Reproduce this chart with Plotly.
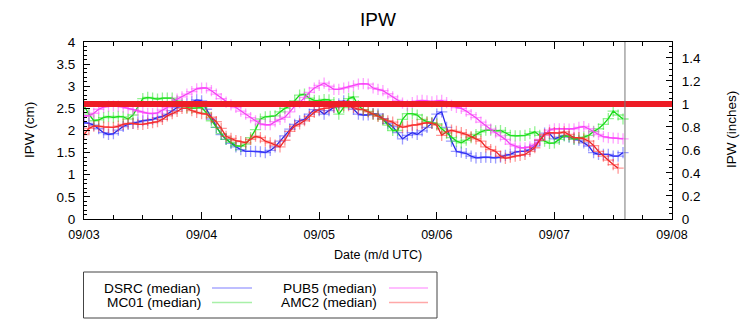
import plotly.graph_objects as go
import pandas as pd

# ---------------- data (IPW in cm, hourly from 09/03 00 UTC) ----------------
start_time = "2014-09-03 00:00"
dsrc = [2.18, 2.16, 2.12, 2.04, 1.95, 1.91, 1.93, 2.01, 2.09, 2.14,
        2.16, 2.19, 2.22, 2.23, 2.25, 2.29, 2.32, 2.37, 2.45, 2.52,
        2.56, 2.60, 2.65, 2.69, 2.67, 2.48, 2.26, 2.07, 1.91, 1.80,
        1.71, 1.63, 1.57, 1.53, 1.53, 1.53, 1.52, 1.50, 1.55, 1.63,
        1.76, 1.88, 2.03, 2.14, 2.22, 2.25, 2.37, 2.47, 2.45, 2.37,
        2.45, 2.52, 2.60, 2.67, 2.60, 2.48, 2.37, 2.35, 2.35, 2.38,
        2.37, 2.27, 2.16, 2.09, 1.95, 1.81, 1.89, 1.95, 1.91, 1.99,
        2.07, 2.16, 2.37, 2.42, 2.07, 1.76, 1.53, 1.51, 1.48, 1.42,
        1.38, 1.39, 1.40, 1.39, 1.38, 1.40, 1.44, 1.46, 1.51, 1.53,
        1.53, 1.57, 1.65, 1.78, 1.94, 1.93, 1.81, 1.85, 1.89, 1.85,
        1.81, 1.78, 1.72, 1.65, 1.50, 1.46, 1.46, 1.46, 1.42, 1.42, 1.50]
mc01 = [2.56, 2.37, 2.22, 2.24, 2.29, 2.32, 2.29, 2.32, 2.31, 2.26,
        2.35, 2.55, 2.72, 2.75, 2.73, 2.71, 2.73, 2.73, 2.73, 2.67,
        2.60, 2.52, 2.50, 2.51, 2.52, 2.40, 2.22, 2.07, 1.93, 1.80,
        1.73, 1.66, 1.64, 1.69, 1.84, 2.02, 2.26, 2.31, 2.32, 2.33,
        2.42, 2.50, 2.55, 2.67, 2.80, 2.82, 2.73, 2.68, 2.67, 2.70,
        2.69, 2.63, 2.37, 2.52, 2.72, 2.76, 2.56, 2.47, 2.43, 2.37,
        2.33, 2.25, 2.12, 2.00, 2.00, 2.25, 2.38, 2.38, 2.35, 2.25,
        2.20, 2.18, 2.15, 2.04, 1.94, 1.84, 1.76, 1.72, 1.78, 1.84,
        1.91, 1.97, 2.01, 2.01, 1.99, 2.00, 1.95, 1.89, 1.88, 1.88,
        1.89, 1.93, 1.97, 1.89, 1.76, 1.71, 1.72, 1.80, 1.88, 1.86,
        1.80, 1.83, 1.85, 1.89, 1.98, 2.04, 2.14, 2.27, 2.44, 2.35, 2.26]
pub5 = [2.33, 2.33, 2.39, 2.48, 2.53, 2.55, 2.55, 2.55, 2.53, 2.50,
        2.47, 2.44, 2.41, 2.39, 2.38, 2.40, 2.46, 2.52, 2.65, 2.71,
        2.76, 2.82, 2.88, 2.94, 2.96, 2.96, 2.90, 2.82, 2.72, 2.64,
        2.58, 2.52, 2.44, 2.37, 2.29, 2.22, 2.15, 2.13, 2.13, 2.20,
        2.25, 2.30, 2.42, 2.55, 2.63, 2.75, 2.86, 2.96, 3.02, 3.07,
        3.00, 2.93, 2.93, 2.96, 2.98, 3.01, 3.05, 3.06, 3.05, 2.96,
        2.93, 2.90, 2.83, 2.76, 2.68, 2.62, 2.57, 2.63, 2.67, 2.68,
        2.67, 2.65, 2.67, 2.68, 2.63, 2.57, 2.52, 2.50, 2.44, 2.36,
        2.29, 2.19, 2.12, 2.03, 1.95, 1.88, 1.80, 1.69, 1.65, 1.61,
        1.61, 1.63, 1.69, 1.80, 1.89, 2.01, 2.04, 2.04, 2.04, 2.03,
        2.04, 2.07, 2.09, 2.04, 1.97, 1.91, 1.86, 1.84, 1.83, 1.82, 1.81]
amc2 = [1.91, 2.05, 2.10, 2.10, 2.08, 2.07, 2.07, 2.10, 2.14, 2.16,
        2.16, 2.14, 2.14, 2.16, 2.18, 2.20, 2.25, 2.33, 2.38, 2.43,
        2.50, 2.50, 2.45, 2.41, 2.38, 2.37, 2.30, 2.20, 2.05, 1.87,
        1.82, 1.77, 1.75, 1.72, 1.80, 1.87, 1.84, 1.76, 1.72, 1.67,
        1.63, 1.78, 1.98, 2.10, 2.15, 2.22, 2.32, 2.41, 2.47, 2.50,
        2.51, 2.53, 2.56, 2.56, 2.56, 2.52, 2.48, 2.47, 2.42, 2.37,
        2.32, 2.26, 2.22, 2.19, 2.12, 2.07, 2.10, 2.12, 2.13, 2.16,
        2.18, 2.16, 2.12, 1.89, 1.97, 2.01, 1.98, 1.95, 1.91, 1.86,
        1.81, 1.76, 1.63, 1.57, 1.53, 1.42, 1.37, 1.40, 1.42, 1.44,
        1.46, 1.53, 1.61, 1.78, 1.91, 1.95, 1.95, 1.94, 1.97, 1.91,
        1.84, 1.84, 1.81, 1.76, 1.66, 1.53, 1.42, 1.33, 1.23, 1.15]

series_names = ["DSRC (median)", "MC01 (median)", "PUB5 (median)", "AMC2 (median)"]
series_values = [dsrc, mc01, pub5, amc2]
line_colors = ["#2424e8", "#12d812", "#f040f0", "#ec2424"]
marker_colors = ["rgba(60,60,255,0.5)", "rgba(40,230,40,0.5)",
                 "rgba(255,70,255,0.5)", "rgba(255,50,50,0.5)"]
legend_colors = ["#a8a8ff", "#a8f0a8", "#ffa8ff", "#ffa8a8"]

threshold_cm = 2.6
now_marker = "2014-09-07 14:24"
x_range = ["2014-09-03", "2014-09-08"]
x_tick_vals = ["2014-09-03", "2014-09-04", "2014-09-05", "2014-09-06", "2014-09-07", "2014-09-08"]
x_tick_text = ["09/03", "09/04", "09/05", "09/06", "09/07", "09/08"]

# ---------------- figure ----------------
W, H = 756, 324
L, R, T, B = 84, 84, 42, 105
PW, PH = W - L - R, H - T - B


def px_x(px):
    return (px - L) / PW


def px_y(py):
    return (H - B - py) / PH


fig = go.Figure()
for name, vals, lc, mc in zip(series_names, series_values, line_colors, marker_colors):
    t = pd.date_range(start_time, periods=len(vals), freq="h")
    fig.add_trace(go.Scatter(
        x=t, y=vals, name=name, mode="lines+markers",
        line=dict(color=lc, width=1.3),
        marker=dict(symbol="cross-thin", size=8, color=mc, line=dict(width=1.3, color=mc)),
        showlegend=False))

# invisible trace to activate the right axis
fig.add_trace(go.Scatter(x=[x_range[0]], y=[0], yaxis="y2", mode="markers",
                         marker=dict(opacity=0), showlegend=False, hoverinfo="skip"))

font_main = "Liberation Sans, Arial, sans-serif"

fig.update_layout(
    width=W, height=H,
    margin=dict(l=L, r=R, t=T, b=B),
    paper_bgcolor="white", plot_bgcolor="white",
    font=dict(family=font_main, size=13, color="black"),
    showlegend=False,
    title=dict(text="IPW", x=0.5, xanchor="center", y=0.94, yanchor="middle",
               font=dict(size=19, family=font_main)),
    xaxis=dict(
        type="date", range=x_range,
        tickvals=x_tick_vals, ticktext=x_tick_text,
        ticks="inside", ticklen=7, tickwidth=1, tickcolor="black",
        showline=True, linecolor="black", linewidth=1, mirror="ticks",
        showgrid=False, zeroline=False,
        minor=dict(ticks="inside", ticklen=4, dtick=6 * 3600 * 1000, tickcolor="black", showgrid=False),
        tickfont=dict(size=12.5), ticklabelstandoff=4,
    ),
    yaxis=dict(
        range=[0, 4], dtick=0.5, tick0=0,
        ticks="inside", ticklen=6, tickwidth=1, tickcolor="black",
        showline=True, linecolor="black", linewidth=1, mirror=False,
        showgrid=False, zeroline=False,
        minor=dict(ticks="inside", ticklen=3, dtick=0.1, tickcolor="black", showgrid=False),
        tickfont=dict(size=13.5), ticklabelstandoff=5,
    ),
    yaxis2=dict(
        overlaying="y", side="right", range=[0, 4 / threshold_cm],
        dtick=0.2, tick0=0,
        ticks="inside", ticklen=6, tickwidth=1, tickcolor="black",
        showline=True, linecolor="black", linewidth=1,
        showgrid=False, zeroline=False,
        minor=dict(ticks="inside", ticklen=3, dtick=0.05, tickcolor="black", showgrid=False),
        tickfont=dict(size=13.5), ticklabelstandoff=6,
    ),
)

# axis titles
fig.add_annotation(text="IPW (cm)", xref="paper", yref="paper", x=px_x(29), y=px_y(130),
                   xanchor="center", yanchor="middle",
                   textangle=-90, showarrow=False, font=dict(size=13.5))
fig.add_annotation(text="IPW (inches)", xref="paper", yref="paper", x=px_x(731), y=px_y(130),
                   xanchor="center", yanchor="middle",
                   textangle=-90, showarrow=False, font=dict(size=13.5))
fig.add_annotation(text="Date (m/d UTC)", xref="paper", yref="paper", x=0.5, y=px_y(255),
                   xanchor="center", yanchor="middle",
                   showarrow=False, font=dict(size=12.5))

# threshold line and current time marker
fig.add_shape(type="line", xref="paper", yref="y", x0=0, x1=1, y0=threshold_cm, y1=threshold_cm,
              line=dict(color="#ee1c25", width=6), layer="above")
fig.add_shape(type="line", xref="x", yref="paper", x0=now_marker, x1=now_marker, y0=0, y1=1,
              line=dict(color="#777777", width=1), layer="above")

# custom legend box (text left of sample line)
fig.add_shape(type="rect", xref="paper", yref="paper",
              x0=px_x(83.5), x1=px_x(437), y0=px_y(318), y1=px_y(272),
              line=dict(color="#444444", width=1), fillcolor="white")
legend_pos = [(203, 288, 212, 252), (203, 302.5, 212, 252), (379, 288, 389, 428), (379, 302.5, 389, 428)]
for name, lcol, (tx, ty, lx0, lx1) in zip(series_names, legend_colors, legend_pos):
    fig.add_annotation(text=name, xref="paper", yref="paper", x=px_x(tx), y=px_y(ty),
                       xanchor="right", yanchor="middle", showarrow=False, font=dict(size=13.7))
    fig.add_shape(type="line", xref="paper", yref="paper", x0=px_x(lx0), x1=px_x(lx1),
                  y0=px_y(ty), y1=px_y(ty), line=dict(color=lcol, width=1.5))

fig.write_html("out.html")
